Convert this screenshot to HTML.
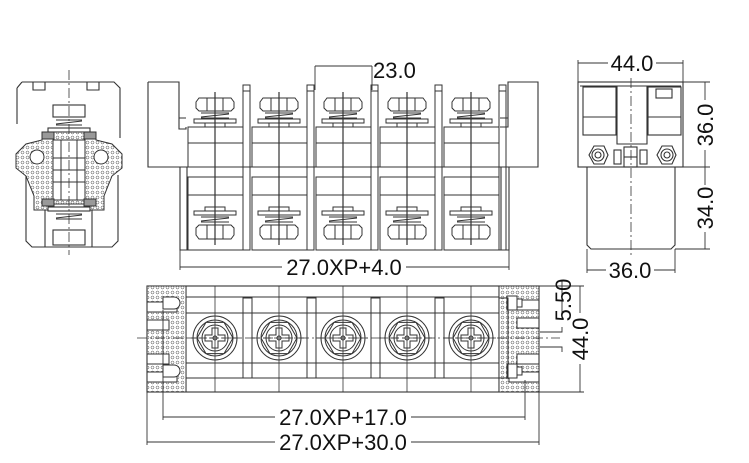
<!DOCTYPE html>
<html><head><meta charset="utf-8"><style>
html,body{margin:0;padding:0;background:#fff;}
svg{display:block;}
text{font-family:"Liberation Sans",sans-serif;fill:#111;}
</style></head><body>
<svg width="749" height="463" viewBox="0 0 749 463" xmlns="http://www.w3.org/2000/svg">
<defs>
<pattern id="hx" width="5" height="5" patternUnits="userSpaceOnUse">
<rect width="5" height="5" fill="#fff"/><circle cx="2.5" cy="2.5" r="1.5" fill="none" stroke="#555" stroke-width="0.5"/>
</pattern>
<g id="ft" fill="none" stroke="#333" stroke-width="1">
<rect x="188" y="127" width="55" height="40"/>
<line x1="188" y1="143" x2="243" y2="143"/>
<path d="M199 98 h32 l3 4 v6 l-3 3 h-32 l-3 -3 v-6 z"/>
<line x1="207" y1="98" x2="207" y2="111"/><line x1="223" y1="98" x2="223" y2="111"/>
<path d="M201 113 h28 M201 117 l28 -3 M201 118 h28"/>
<rect x="194" y="119" width="42" height="4"/>
<rect x="205" y="123" width="20" height="4"/>
<rect x="188" y="177" width="55" height="73"/>
<line x1="188" y1="195" x2="243" y2="195"/>
<rect x="205" y="207" width="20" height="4"/>
<rect x="194" y="211" width="42" height="4"/>
<path d="M201 217 h28 M201 221 l28 -3 M201 222 h28"/>
<path d="M199 225 h32 l3 3 v7 l-3 4 h-32 l-3 -4 v-7 z"/>
<line x1="207" y1="225" x2="207" y2="239"/><line x1="223" y1="225" x2="223" y2="239"/>
<rect x="243" y="85" width="7" height="82"/><line x1="243" y1="91" x2="250" y2="91"/>
<rect x="243" y="167" width="7" height="83"/>
<line x1="215" y1="92" x2="215" y2="245" stroke-width="1.2"/>
</g>
<g id="tt" fill="none" stroke="#333" stroke-width="1">
<circle cx="215" cy="338" r="22"/>
<polygon points="233,338 224,353.6 206,353.6 197,338 206,322.4 224,322.4"/>
<circle cx="215" cy="338" r="18"/>
<circle cx="215" cy="338" r="13"/>
<path d="M212 328 h6 v7 h7 v6 h-7 v7 h-6 v-7 h-7 v-6 h7 z"/>
<circle cx="215" cy="338" r="2"/>
<line x1="215" y1="286" x2="215" y2="392" stroke-width="0.8"/>
<line x1="188" y1="338" x2="243" y2="338" stroke-dasharray="8,3" stroke-width="0.8"/>
<rect x="243" y="298" width="9" height="80"/>
</g>
</defs>

<!-- LEFT SIDE VIEW -->
<g fill="none" stroke="#333" stroke-width="1.1">
<path d="M22 82 h92 l6 6 v50 M17 88 l5 -6 M17 88 v36"/>
<path d="M33 82 v8 h12 v-8 M87 82 v8 h12 v-8"/>
<path d="M26 175 v66 l6 6 h80 l6 -6 v-66"/>
<line x1="45" y1="200" x2="45" y2="247"/><line x1="92" y1="200" x2="92" y2="247"/>
<rect x="53" y="105" width="32" height="12"/>
<path d="M56 120 h26 M56 124 l26 -3 M56 125 h26"/>
<rect x="48" y="128" width="42" height="4"/>
<rect x="53" y="230" width="32" height="15"/>
<path d="M56 214 h26 M56 218 l26 -3 M56 219 h26"/>
<rect x="48" y="207" width="42" height="4"/>
</g>
<path d="M42 132 h54 v8 l16 4 l10 10 v14 l-10 8 l-8 20 v14 h-14 v-6 h-42 v6 h-14 v-14 l-8 -20 l-10 -8 v-14 l10 -10 l16 -4 z" fill="url(#hx)" stroke="#333" stroke-width="1"/>
<g fill="#fff" stroke="#333" stroke-width="1">
<rect x="53" y="140" width="32" height="60"/>
<line x1="53" y1="158" x2="85" y2="158"/><line x1="53" y1="170" x2="85" y2="170"/><line x1="53" y1="182" x2="85" y2="182"/>
<line x1="61" y1="140" x2="61" y2="200"/><line x1="77" y1="140" x2="77" y2="200"/>
<circle cx="37" cy="157" r="7"/><circle cx="101" cy="157" r="7"/>
</g>
<rect x="42" y="132" width="12" height="7" fill="#999" stroke="#333"/>
<rect x="84" y="132" width="12" height="7" fill="#999" stroke="#333"/>
<rect x="42" y="199" width="12" height="7" fill="#999" stroke="#333"/>
<rect x="84" y="199" width="12" height="7" fill="#999" stroke="#333"/>
<line x1="69" y1="70" x2="69" y2="255" stroke="#333" stroke-width="0.8" stroke-dasharray="10,3,2,3"/>

<!-- FRONT VIEW -->
<g fill="none" stroke="#333" stroke-width="1.1">
<path d="M148 82 h31 v47 h7 v-2 M148 82 v85 h390 v-85 h-30 v45 h-8"/>
<path d="M180 167 v83 h7 v-83 M509 167 v83 h-8 v-83"/>
<path d="M179 118 h7 M500 118 h8"/>
</g>
<use href="#ft"/>
<use href="#ft" x="64"/>
<use href="#ft" x="128"/>
<use href="#ft" x="192"/>
<use href="#ft" x="256"/>
<g stroke="#333" stroke-width="0.9" fill="none">
<line x1="315" y1="66" x2="315" y2="90"/><line x1="372" y1="66" x2="372" y2="90"/>
<line x1="315" y1="66" x2="372" y2="66"/>
<line x1="180" y1="250" x2="180" y2="270"/><line x1="509" y1="250" x2="509" y2="270"/>
<line x1="180" y1="267" x2="282" y2="267"/><line x1="406" y1="267" x2="509" y2="267"/>
</g>
<text x="373" y="78" font-size="22">23.0</text>
<text x="344" y="275" font-size="22" text-anchor="middle">27.0XP+4.0</text>

<!-- RIGHT SIDE VIEW -->
<g fill="none" stroke="#333" stroke-width="1.1">
<rect x="578" y="82" width="105" height="85"/>
<line x1="580" y1="86" x2="681" y2="86"/>
<rect x="583" y="87" width="33" height="48"/><line x1="583" y1="117" x2="616" y2="117"/>
<rect x="648" y="87" width="33" height="48"/><line x1="648" y1="117" x2="681" y2="117"/>
<rect x="656" y="89" width="16" height="9"/>
<path d="M617 86 v58 h30 v-58"/>
<path d="M587 167 v78 l4 4 h80 l4 -4 v-78"/>
<polygon points="608,155 604,164 594,164 589,155 594,146 604,146"/><circle cx="598" cy="155" r="6"/><circle cx="598" cy="155" r="3"/>
<polygon points="676,155 672,164 662,164 657,155 662,146 672,146"/><circle cx="667" cy="155" r="6"/><circle cx="667" cy="155" r="3"/>
<rect x="614" y="150" width="7" height="14"/><rect x="640" y="150" width="7" height="14"/>
<rect x="624" y="147" width="13" height="20"/><line x1="624" y1="157" x2="637" y2="157"/>
</g>
<line x1="631" y1="78" x2="631" y2="255" stroke="#333" stroke-width="0.8" stroke-dasharray="10,3,2,3"/>
<g stroke="#333" stroke-width="0.9" fill="none">
<line x1="578" y1="60" x2="578" y2="82"/><line x1="683" y1="60" x2="683" y2="82"/>
<line x1="578" y1="63" x2="608" y2="63"/><line x1="656" y1="63" x2="683" y2="63"/>
<line x1="587" y1="249" x2="587" y2="273"/><line x1="675" y1="249" x2="675" y2="273"/>
<line x1="587" y1="270" x2="606" y2="270"/><line x1="654" y1="270" x2="675" y2="270"/>
<line x1="683" y1="82" x2="710" y2="82"/><line x1="683" y1="167" x2="710" y2="167"/><line x1="675" y1="249" x2="710" y2="249"/>
<line x1="705" y1="82" x2="705" y2="100"/><line x1="705" y1="150" x2="705" y2="185"/><line x1="705" y1="232" x2="705" y2="249"/>
</g>
<text x="632" y="71" font-size="22" text-anchor="middle">44.0</text>
<text x="630" y="278" font-size="22" text-anchor="middle">36.0</text>
<text font-size="22" text-anchor="middle" transform="translate(713,125) rotate(-90)">36.0</text>
<text font-size="22" text-anchor="middle" transform="translate(713,208) rotate(-90)">34.0</text>

<!-- TOP VIEW -->
<g fill="none" stroke="#333" stroke-width="1.1">
<rect x="147" y="286" width="392" height="106"/>
<line x1="186" y1="286" x2="186" y2="392"/><line x1="499" y1="286" x2="499" y2="392"/>
<line x1="186" y1="297" x2="499" y2="297"/><line x1="186" y1="313" x2="499" y2="313"/>
<line x1="186" y1="363" x2="499" y2="363"/><line x1="186" y1="378" x2="499" y2="378"/>
</g>
<path d="M147 286 h39 v106 h-39 v-10 h30 v-10 h-30 v-8 h22 v-10 h-22 v-24 h22 v-10 h-22 v-8 h30 v-10 h-30 z" fill="url(#hx)" stroke="#333" stroke-width="1"/>
<path d="M539 286 h-40 v106 h40 v-10 h-30 v-10 h30 v-8 h-22 v-10 h22 v-26 h-22 v-10 h22 v-8 h-30 v-10 h30 z" fill="url(#hx)" stroke="#333" stroke-width="1"/>
<g fill="#fff" stroke="#333" stroke-width="1">
<path d="M163 297 h11 a6 6 0 0 1 0 12 h-11 z"/><path d="M163 365 h11 a6 6 0 0 1 0 12 h-11 z"/>
<rect x="507" y="296" width="10" height="14"/><rect x="517" y="299" width="5" height="8"/>
<rect x="507" y="364" width="10" height="14"/><rect x="517" y="367" width="5" height="8"/>
</g>
<use href="#tt"/>
<use href="#tt" x="64"/>
<use href="#tt" x="128"/>
<use href="#tt" x="192"/>
<use href="#tt" x="256"/>
<line x1="137" y1="338" x2="560" y2="338" stroke="#333" stroke-width="0.8" stroke-dasharray="10,3,2,3"/>
<g stroke="#333" stroke-width="0.9" fill="none">
<line x1="163" y1="310" x2="163" y2="420"/><line x1="525" y1="380" x2="525" y2="420"/>
<line x1="163" y1="417" x2="275" y2="417"/><line x1="411" y1="417" x2="525" y2="417"/>
<line x1="147" y1="392" x2="147" y2="445"/><line x1="539" y1="392" x2="539" y2="445"/>
<line x1="147" y1="442" x2="275" y2="442"/><line x1="411" y1="442" x2="539" y2="442"/>
<line x1="539" y1="286" x2="584" y2="286"/><line x1="539" y1="392" x2="584" y2="392"/>
<line x1="580" y1="286" x2="580" y2="313"/><line x1="580" y1="364" x2="580" y2="392"/>
<path d="M540 332 h22 v-5 M540 347 h22 v5 M562 280 v38"/>
</g>
<text x="343" y="425" font-size="22" text-anchor="middle">27.0XP+17.0</text>
<text x="343" y="450" font-size="22" text-anchor="middle">27.0XP+30.0</text>
<text font-size="22" text-anchor="middle" transform="translate(571,300) rotate(-90)">5.50</text>
<text font-size="22" text-anchor="middle" transform="translate(588,339) rotate(-90)">44.0</text>
</svg>
</body></html>
